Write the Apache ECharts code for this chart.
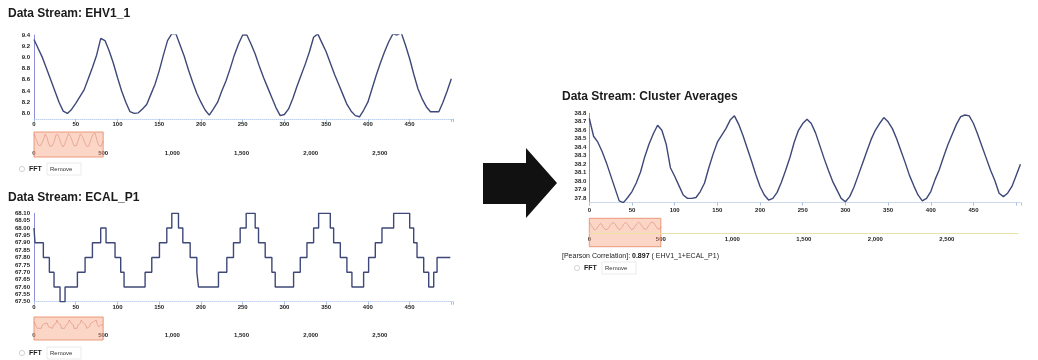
<!DOCTYPE html>
<html><head><meta charset="utf-8">
<script src="https://cdn.jsdelivr.net/npm/echarts/dist/echarts.min.js"></script>
<style>html,body{margin:0;padding:0;background:#fff}#c{width:1038px;height:360px}</style>
</head><body><div id="c"></div><script>
// ---- data ----
const sampleStep = 5; // readings taken every 5 samples
const ehvValues = [
9.32,9.16,9.00,8.80,8.60,8.40,8.20,8.04,8.00,8.07,
8.18,8.30,8.42,8.62,8.82,9.04,9.34,9.30,9.12,8.90,
8.64,8.40,8.20,8.03,8.00,8.01,8.08,8.16,8.34,8.52,
8.76,9.04,9.30,9.42,9.42,9.22,9.02,8.78,8.56,8.36,
8.20,8.06,7.97,8.08,8.20,8.40,8.58,8.80,9.04,9.24,
9.40,9.40,9.24,9.06,8.84,8.64,8.46,8.28,8.10,7.96,
7.98,8.08,8.26,8.48,8.68,8.88,9.10,9.36,9.42,9.26,
9.10,8.90,8.70,8.52,8.34,8.16,8.04,7.96,7.94,8.06,
8.20,8.44,8.68,8.90,9.10,9.28,9.42,9.40,9.44,9.22,
8.98,8.70,8.44,8.26,8.12,8.03,8.03,8.03,8.20,8.40,
8.62];
const ecalX = [0,1.2,11.2,18.4,24.0,31.2,37.2,52.0,61.2,70.0,79.9,86.3,97.1,103.9,107.9,133.1,141.1,150.3,159.1,165.1,173.1,178.3,187.1,195.1,197.1,221.0,231.0,239.0,247.0,254.2,265.0,269.0,277.0,285.0,289.0,311.0,319.0,327.0,335.0,341.0,355.0,359.0,367.0,374.9,380.9,394.9,400.9,408.9,416.9,430.9,450.1,454.9,458.9,466.9,472.9,478.9,482.9,498.8];
const ecalY = [68.00,67.90,67.80,67.70,67.60,67.50,67.60,67.70,67.80,67.90,68.00,67.90,67.80,67.70,67.60,67.70,67.80,67.90,68.00,68.10,68.00,67.90,67.80,67.70,67.60,67.70,67.80,67.90,68.00,68.10,68.00,67.90,67.80,67.70,67.60,67.70,67.80,67.90,68.00,68.10,68.00,67.90,67.80,67.70,67.60,67.70,67.80,67.90,68.00,68.10,68.00,67.90,67.80,67.70,67.60,67.70,67.80,67.80];
const clusterValues = [
38.74,38.53,38.46,38.35,38.22,38.07,37.92,37.77,37.75,37.81,
37.88,37.98,38.11,38.29,38.44,38.56,38.66,38.60,38.44,38.16,
38.06,37.95,37.84,37.80,37.80,37.81,37.88,37.98,38.16,38.32,
38.46,38.54,38.62,38.72,38.77,38.67,38.54,38.39,38.24,38.08,
37.94,37.84,37.78,37.80,37.87,37.99,38.13,38.28,38.46,38.60,
38.68,38.73,38.68,38.57,38.42,38.27,38.13,38.00,37.90,37.80,
37.76,37.82,37.93,38.07,38.21,38.35,38.49,38.60,38.68,38.75,
38.70,38.62,38.50,38.36,38.22,38.07,37.95,37.84,37.77,37.80,
37.88,38.02,38.14,38.29,38.43,38.55,38.67,38.76,38.78,38.77,
38.68,38.55,38.41,38.27,38.13,38.01,37.86,37.82,37.86,37.94,
38.07,38.20];
const selection = [0, 500];          // brushed window in the overview
const overviewRange = [0, 3000];     // full stream length
const pearson = '0.897';

// ---- build pairs ----
const ehvData = ehvValues.map((v, i) => [i * sampleStep, v]);
const clusterData = clusterValues.map((v, i) => [i * sampleStep, v]);
const ecalData = ecalX.map((x, i) => [x, ecalY[i]]);

const LINE = '#3e4878';
const LBL = {fontSize: 6, fontWeight: 'bold', color: '#222', fontFamily: 'Liberation Sans, Arial, sans-serif'};
const comma = v => v >= overviewRange[1] ? '' : String(v).replace(/\B(?=(\d{3})+(?!\d))/g, ',');

function mainX(idx, max, margin) {
  return {gridIndex: idx, type: 'value', min: 0, max: max, interval: 50,
    axisLine: {show: true, lineStyle: {color: '#c3d3ee', type: 'dotted', width: 1}},
    axisTick: {show: true, length: 3, lineStyle: {color: '#a9c0e6'}},
    splitLine: {show: false},
    axisLabel: Object.assign({margin: margin, formatter: v => v >= 500 ? '' : String(v)}, LBL)};
}
function mainY(idx, min, max, interval, fmt, margin) {
  return {gridIndex: idx, type: 'value', min: min, max: max, interval: interval,
    axisLine: {show: true, lineStyle: {color: '#8e90dc', width: 1}},
    axisTick: {show: false}, splitLine: {show: false},
    axisLabel: Object.assign({margin: margin, formatter: fmt}, LBL)};
}
function sliderX(idx, margin) {
  return {gridIndex: idx, type: 'value', min: overviewRange[0], max: overviewRange[1], interval: 500,
    axisLine: {show: false}, axisTick: {show: false}, splitLine: {show: false},
    axisLabel: Object.assign({inside: true, margin: margin, formatter: comma}, LBL)};
}
function sliderY(idx, min, max) {
  return {gridIndex: idx, type: 'value', min: min, max: max, show: false, splitLine: {show: false}};
}
const selArea = {silent: true,
  itemStyle: {color: 'rgba(247,165,130,0.45)', borderColor: 'rgba(232,140,105,0.85)', borderWidth: 1},
  data: [[{xAxis: selection[0]}, {xAxis: selection[1]}]]};
function mainSeries(ax, data, step) {
  return {type: 'line', xAxisIndex: ax, yAxisIndex: ax, data: data, step: step || false,
    showSymbol: false, silent: true, lineStyle: {color: LINE, width: 1.4}};
}
function sliderSeries(ax, data, step, extra) {
  return Object.assign({type: 'line', xAxisIndex: ax, yAxisIndex: ax, data: data, step: step || false,
    showSymbol: false, silent: true, lineStyle: {color: 'rgba(214,110,90,0.55)', width: 0.8},
    markArea: selArea}, extra || {});
}

const fmt1 = v => Math.round(v * 10) % 2 === 0 ? v.toFixed(1) : '';
const fmt2 = v => v.toFixed(2);
const fmtC = v => Math.round(v * 100) % 10 === 0 ? v.toFixed(1) : '';

const FONT = 'Liberation Sans, Arial, Helvetica, sans-serif';
function txt(x, y, text, font, fill) {
  return {type: 'text', x: x, y: y, silent: true,
    style: {text: text, font: font, fill: fill || '#1b1b1b', verticalAlign: 'middle', textVerticalAlign: 'middle'}};
}
function fftRow(x, y) {
  return [
    {type: 'circle', shape: {cx: x, cy: y, r: 2.6}, style: {fill: '#fff', stroke: '#c8c8c8', lineWidth: 0.8}, silent: true},
    txt(x + 7, y, 'FFT', 'bold 7px ' + FONT, '#1b1b1b'),
    {type: 'rect', shape: {x: x + 25, y: y - 6, width: 34, height: 12}, style: {fill: 'none', stroke: '#e6e6e6', lineWidth: 0.8}, silent: true},
    txt(x + 28, y, 'Remove', '6px ' + FONT, '#333')
  ];
}

const option = {
  animation: false,
  backgroundColor: '#ffffff',
  grid: [
    {left: 34, top: 35, width: 419, height: 84},
    {left: 34, top: 132, width: 415, height: 25},
    {left: 34, top: 213.3, width: 419, height: 88.4},
    {left: 34, top: 317, width: 415, height: 23},
    {left: 589.3, top: 113.3, width: 432, height: 89.3},
    {left: 589.3, top: 218.3, width: 429, height: 28.4}
  ],
  xAxis: [mainX(0, 502, 2), sliderX(1, 1), mainX(2, 502, 3), sliderX(3, 2), mainX(4, 506, 5), sliderX(5, 4)],
  yAxis: [
    mainY(0, 7.9, 9.4, 0.1, fmt1, 4), sliderY(1, 6.9, 9.56),
    mainY(2, 67.5, 68.1, 0.05, fmt2, 4), sliderY(3, 66.9, 68.28),
    mainY(4, 37.75, 38.8, 0.05, fmtC, 3), sliderY(5, 35.65, 39.23)
  ],
  series: [
    mainSeries(0, ehvData), sliderSeries(1, ehvData),
    mainSeries(2, ecalData, 'end'), sliderSeries(3, ecalData, 'end'),
    mainSeries(4, clusterData),
    sliderSeries(5, clusterData, false, {markLine: {silent: true, symbol: 'none', label: {show: false},
      lineStyle: {color: '#e9e4a6', type: 'solid', width: 1}, data: [{yAxis: 37.38}]}})
  ],
  graphic: [].concat(
    [txt(8, 14, 'Data Stream: EHV1_1', 'bold 12px ' + FONT),
     txt(8, 198, 'Data Stream: ECAL_P1', 'bold 12px ' + FONT),
     txt(562, 97, 'Data Stream: Cluster Averages', 'bold 12px ' + FONT),
     {type: 'text', x: 562, y: 256, silent: true, style: {
       text: '{a|[Pearson Correlation]: }{b|' + pearson + '}{a| ( EHV1_1+ECAL_P1)}',
       verticalAlign: 'middle', textVerticalAlign: 'middle',
       rich: {a: {font: '7px ' + FONT, fill: '#222', fontSize: 7, color: '#222'},
              b: {font: 'bold 7px ' + FONT, fill: '#111', fontSize: 7, fontWeight: 'bold', color: '#111'}}}},
     {type: 'polygon', silent: true, shape: {points: [[483, 163], [526, 163], [526, 148], [557, 183], [526, 218], [526, 204], [483, 204]]},
      style: {fill: '#111'}}],
    fftRow(22, 169), fftRow(22, 353), fftRow(577, 268)
  )
};
echarts.init(document.getElementById('c'), null, {renderer: 'canvas'}).setOption(option);
</script></body></html>
